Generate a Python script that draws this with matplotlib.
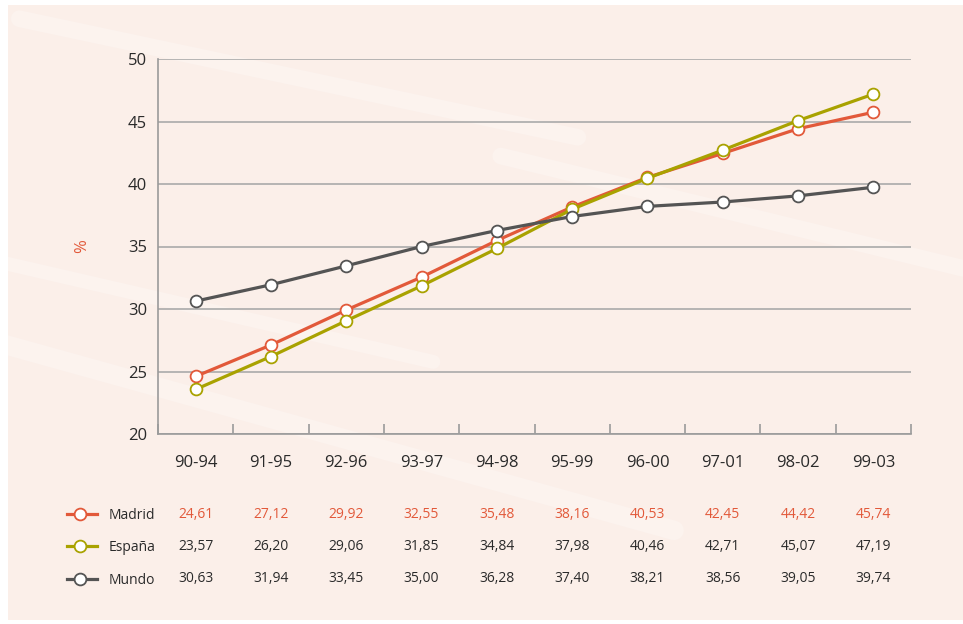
import numpy as np
import matplotlib.pyplot as plt
from matplotlib.patches import Rectangle
from matplotlib.transforms import blended_transform_factory

periods = ['90-94', '91-95', '92-96', '93-97', '94-98',
           '95-99', '96-00', '97-01', '98-02', '99-03']
madrid = [24.61, 27.12, 29.92, 32.55, 35.48, 38.16, 40.53, 42.45, 44.42, 45.74]
espana = [23.57, 26.20, 29.06, 31.85, 34.84, 37.98, 40.46, 42.71, 45.07, 47.19]
mundo = [30.63, 31.94, 33.45, 35.00, 36.28, 37.40, 38.21, 38.56, 39.05, 39.74]
series_names = ['Madrid', 'España', 'Mundo']
y_ticks = [20, 25, 30, 35, 40, 45, 50]

ORANGE = '#e2593a'
OLIVE = '#a9a200'
GREY = '#545454'
TEXT = '#2a2a2a'
FONT = ['Open Sans', 'DejaVu Sans']


def fmt(v):
    return f'{v:.2f}'.replace('.', ',')


def main():
    plt.rcParams['font.family'] = FONT
    fig = plt.figure(figsize=(9.63, 6.24), dpi=100)
    fig.patch.set_facecolor('white')

    # peach background panel with a few soft streaks
    fig.patches.append(Rectangle((8 / 963, 4 / 624), 955 / 963, 615 / 624,
                                 transform=fig.transFigure, facecolor='#fbefe9',
                                 edgecolor='none', zorder=-10))
    for (x0, y0, x1, y1, w) in [(0.02, 0.97, 0.6, 0.78, 12), (0.0, 0.58, 0.45, 0.42, 10),
                                (0.0, 0.45, 0.7, 0.15, 14), (0.52, 0.75, 1.0, 0.57, 12)]:
        fig.lines.append(plt.Line2D([x0, x1], [y0, y1], transform=fig.transFigure,
                                    color='white', alpha=0.25, lw=w, zorder=-9,
                                    solid_capstyle='round'))

    ax = fig.add_axes([158 / 963, 1 - 434 / 624, 753 / 963, 375 / 624])
    ax.set_facecolor('none')

    x = np.arange(len(periods))
    data = [madrid, espana, mundo]
    colors = [ORANGE, OLIVE, GREY]
    order = [2, 0, 1]
    for i in order:
        ax.plot(x, data[i], color=colors[i], lw=2.3, marker='o', ms=8.5,
                mfc='white', mec=colors[i], mew=1.3, zorder=3 + i, clip_on=False)

    ax.set_xlim(-0.5, len(periods) - 0.5)
    ax.set_ylim(20, 50)
    ax.set_yticks(y_ticks)
    ax.set_yticklabels([str(t) for t in y_ticks], fontsize=12, color=TEXT)
    ax.set_xticks(x)
    ax.set_xticklabels(periods, fontsize=12, color=TEXT)
    ax.set_xticks(np.arange(-0.5, len(periods)), minor=True)
    ax.tick_params(axis='x', which='major', length=0, pad=15)
    ax.tick_params(axis='x', which='minor', direction='in', length=7,
                   color='#9a9a9a', width=1.2)
    ax.tick_params(axis='y', length=0, pad=8)
    ax.grid(axis='y', color='#aaaaaa', lw=1.2)
    ax.set_axisbelow(True)
    for side in ['top', 'right']:
        ax.spines[side].set_visible(False)
    for side in ['left', 'bottom']:
        ax.spines[side].set_color('#9a9a9a')
        ax.spines[side].set_linewidth(1.2)

    fig.text(82 / 963, 1 - 246 / 624, '%', color=ORANGE, fontsize=12,
             rotation=90, ha='center', va='center')

    # data table below the chart
    trans = blended_transform_factory(ax.transData, fig.transFigure)
    row_y = [1 - 514 / 624, 1 - 546 / 624, 1 - 579 / 624]
    for i, name in enumerate(series_names):
        yy = row_y[i]
        fig.lines.append(plt.Line2D([67 / 963, 97 / 963], [yy, yy],
                                    transform=fig.transFigure, color=colors[i],
                                    lw=2.3, marker='', zorder=5))
        fig.lines.append(plt.Line2D([80 / 963], [yy], transform=fig.transFigure,
                                    marker='o', ms=8.5, mfc='white', mec=colors[i],
                                    mew=1.3, lw=0, zorder=6))
        fig.text(109 / 963, yy - 0.003, name, fontsize=10, color=TEXT,
                 ha='left', va='center')
        val_color = ORANGE if i == 0 else TEXT
        for j, v in enumerate(data[i]):
            ax.text(j, yy, fmt(v), transform=trans, fontsize=10,
                    color=val_color, ha='center', va='center')

    fig.savefig('out.png', dpi=100, facecolor=fig.get_facecolor())


if __name__ == '__main__':
    main()
